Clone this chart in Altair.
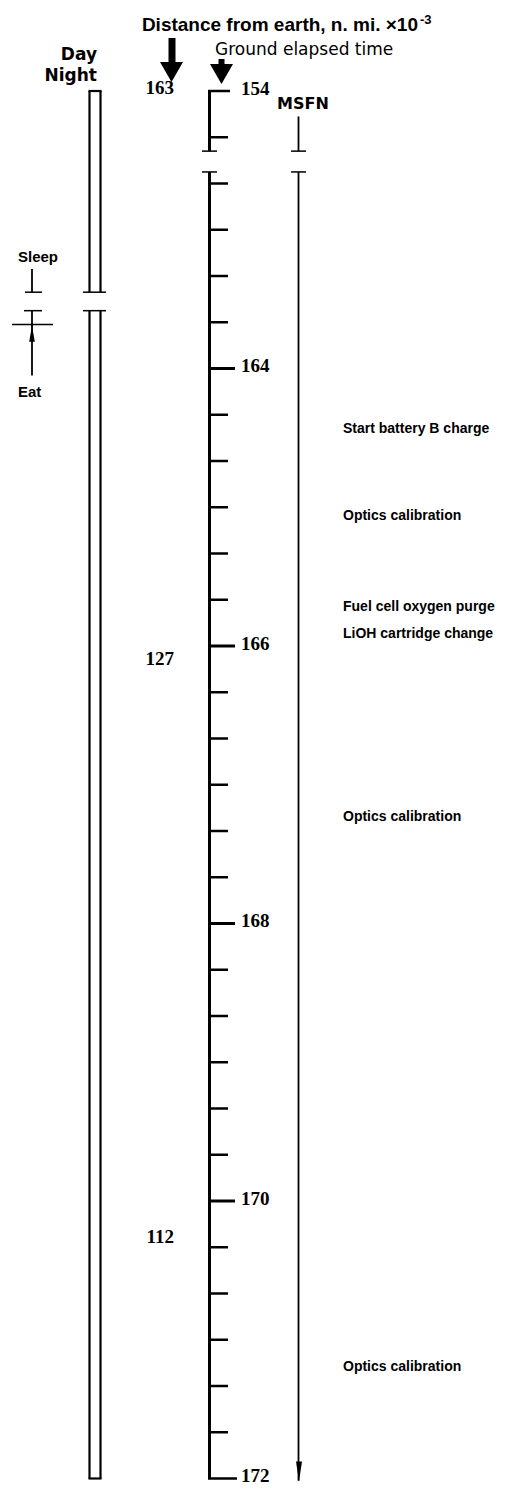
import altair as alt
import pandas as pd

# ---------------- data ----------------
tick_times = ["154:00", "154:20",
              "162:40", "163:00", "163:20", "163:40", "164:00", "164:20", "164:40",
              "165:00", "165:20", "165:40", "166:00", "166:20", "166:40", "167:00",
              "167:20", "167:40", "168:00", "168:20", "168:40", "169:00", "169:20",
              "169:40", "170:00", "170:20", "170:40", "171:00", "171:20", "171:40", "172:00"]
major_hours = ["154:00", "164:00", "166:00", "168:00", "170:00", "172:00"]
major_labels = ["154", "164", "166", "168", "170", "172"]

event_times = ["164:26", "165:04", "165:43", "165:55", "167:14", "171:12"]
event_labels = ["Start battery B charge", "Optics calibration", "Fuel cell oxygen purge",
                "LiOH cartridge change", "Optics calibration", "Optics calibration"]

distance_times = ["154:00", "166:07", "170:17"]
distance_labels = ["163", "127", "112"]

# axis break (154:26 .. 162:35), drawn with the time before it shifted by 8 h
timeline_starts = ["154:00", "162:35"]
timeline_ends = ["154:26", "172:00"]
msfn_starts = ["154:11", "162:35"]
msfn_ends = ["154:26", "172:01"]
daynight_starts = ["154:00", "163:35"]
daynight_ends = ["163:27", "172:00"]
sleep_times = ["163:17", "163:27"]
eat_times = ["163:35", "164:03"]
eat_mark = ["163:41"]
sleep_label_time = ["163:12"]
eat_label_time = ["164:10"]

FONT_B = "Liberation Sans, Arial, sans-serif"
FONT_D = "DejaVu Sans, sans-serif"
FONT_S = "Liberation Serif, DejaVu Serif, serif"


def hm(s):
    h, m = s.split(":")
    return int(h) + int(m) / 60.0


def P(v):
    return v - 8  # page px -> plot px


SHIFT = "datum.t < 160 ? datum.t + 8 : datum.t"
SHIFT2 = "datum.t2 < 160 ? datum.t2 + 8 : datum.t2"
YS = alt.Scale(domain=[161.4018, 172.0685], reverse=True, nice=False, zero=False)


def ydf(times, **extra):
    d = {"t": [hm(s) for s in times]}
    d.update(extra)
    return pd.DataFrame(d)


def vseg(starts, ends, xpage, sw=2.5):
    df = pd.DataFrame({"t": [hm(s) for s in starts], "t2": [hm(e) for e in ends]})
    return alt.Chart(df).transform_calculate(d=SHIFT, d2=SHIFT2).mark_rule(
        strokeWidth=sw, color="black", strokeCap="butt").encode(
        x=alt.value(P(xpage)), y=alt.Y("d:Q", scale=YS, axis=None), y2="d2:Q")


def hseg(times, x1, x2, sw=2.5):
    return alt.Chart(ydf(times)).transform_calculate(d=SHIFT).mark_rule(
        strokeWidth=sw, color="black", strokeCap="butt").encode(
        x=alt.value(P(x1)), x2=alt.value(P(x2)), y=alt.Y("d:Q", scale=YS, axis=None))


def ytext(times, labels, xpage, font, size, align="left", weight="normal", dy=0):
    df = ydf(times, label=labels)
    return alt.Chart(df).transform_calculate(d=SHIFT).mark_text(
        font=font, fontSize=size, align=align, baseline="middle", fontWeight=weight,
        dy=dy, color="black").encode(
        x=alt.value(P(xpage)), y=alt.Y("d:Q", scale=YS, axis=None), text="label:N")


one = pd.DataFrame({"a": [0]})


def htext(txt, xpage, ypage, font, size, align="left", weight="normal"):
    return alt.Chart(one).mark_text(font=font, fontSize=size, align=align, baseline="middle",
                                    fontWeight=weight, color="black").encode(
        x=alt.value(P(xpage)), y=alt.value(P(ypage)), text=alt.value(txt))


def pmark(xpage, ypage, path, size):
    return alt.Chart(one).mark_point(shape=path, filled=True, color="black", size=size,
                                     opacity=1, strokeWidth=0).encode(
        x=alt.value(P(xpage)), y=alt.value(P(ypage)))


def pmark_t(times, xpage, path, size):
    return alt.Chart(ydf(times)).transform_calculate(d=SHIFT).mark_point(
        shape=path, filled=True, color="black", size=size, opacity=1, strokeWidth=0).encode(
        x=alt.value(P(xpage)), y=alt.Y("d:Q", scale=YS, axis=None))


minor_ticks = [t for t in tick_times if t not in major_hours]

layers = [
    # headers
    htext("Distance from earth, n. mi. \u00d710", 418, 25, FONT_B, 19, align="right", weight="bold"),
    htext("-3", 420, 20, FONT_B, 13, weight="bold"),
    htext("Ground elapsed time", 215, 50, FONT_D, 17),
    htext("Day", 97, 55, FONT_D, 17, align="right", weight="bold"),
    htext("Night", 97, 76, FONT_D, 17, align="right", weight="bold"),
    htext("MSFN", 277, 104, FONT_D, 16, weight="bold"),
    # big arrows
    alt.Chart(one).mark_rule(strokeWidth=7, color="black").encode(
        x=alt.value(P(172)), y=alt.value(P(38)), y2=alt.value(P(66))),
    pmark(171.5, 72, "M-1,-0.87L1,-0.87L0,0.87Z", 530),
    alt.Chart(one).mark_rule(strokeWidth=6, color="black").encode(
        x=alt.value(P(221.5)), y=alt.value(P(59)), y2=alt.value(P(68))),
    pmark(221.5, 74, "M-1,-0.87L1,-0.87L0,0.87Z", 530),
    # timeline
    vseg(timeline_starts, timeline_ends, 209.5, 3),
    hseg(minor_ticks, 209, 228, 2.5),
    hseg(["164:00", "166:00", "168:00", "170:00"], 209, 235, 3),
    hseg(["154:00"], 208, 230, 2.5),
    hseg(["172:00"], 208, 237, 2.5),
    hseg(["154:26", "162:35"], 202, 217, 1.5),
    ytext(major_hours, major_labels, 241, FONT_S, 19, weight="bold", dy=-2),
    # MSFN
    vseg(msfn_starts, msfn_ends, 298.5, 1.8),
    hseg(["154:26", "162:35"], 291, 306, 1.5),
    pmark_t(["171:57"], 299, "M-0.3,-1L0.3,-1L0,1Z", 400),
    # day/night bar
    vseg(daynight_starts, daynight_ends, 89.5, 2.2),
    vseg(daynight_starts, daynight_ends, 100.5, 2.2),
    hseg(["154:00", "172:00"], 88.5, 101.5, 2.2),
    hseg(["163:27", "163:35"], 83, 106, 1.5),
    # sleep / eat
    vseg(sleep_times[:1], sleep_times[1:], 32, 1.8),
    hseg(sleep_times[1:], 25, 42, 1.5),
    vseg(eat_times[:1], eat_times[1:], 32, 1.8),
    hseg(eat_times[:1], 24, 42, 1.5),
    hseg(eat_mark, 12, 53, 1.5),
    pmark_t(["163:45"], 32, "M0,-1L0.35,1L-0.35,1Z", 256),
    ytext(sleep_label_time, ["Sleep"], 18, FONT_B, 15, weight="bold"),
    ytext(eat_label_time, ["Eat"], 18, FONT_B, 15, weight="bold"),
    # distances
    ytext(distance_times, distance_labels, 174, FONT_S, 19, align="right", weight="bold", dy=-3),
    # events
    ytext(event_times, event_labels, 343, FONT_B, 14, weight="bold"),
]

chart = alt.layer(*layers).properties(
    width=496, height=1480,
    autosize=alt.AutoSizeParams(type="none"),
    padding=0,
).configure_view(stroke=None)

chart.save("out.html", embed_options={"renderer": "svg", "actions": False})
